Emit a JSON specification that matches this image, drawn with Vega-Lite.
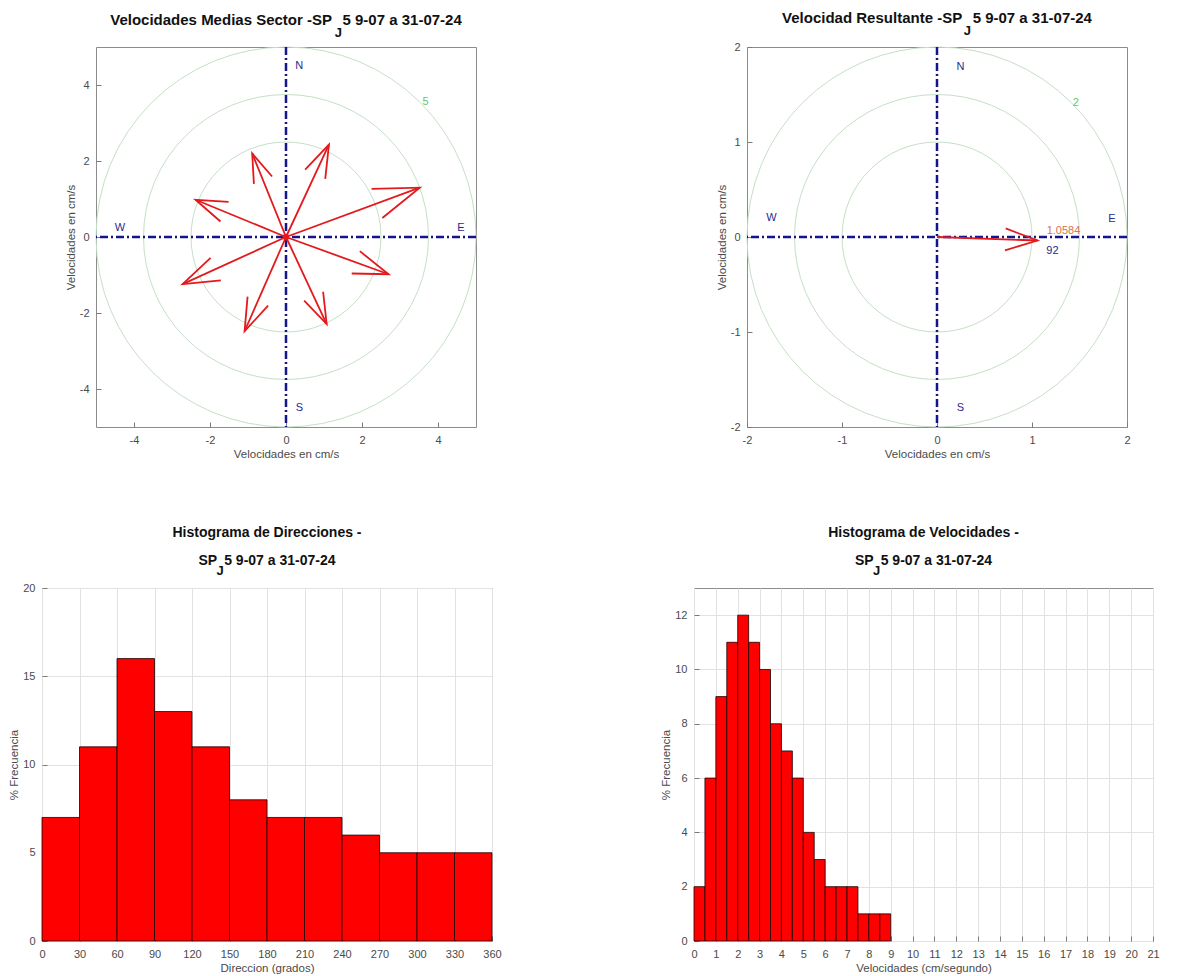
{
"$schema": "https://vega.github.io/schema/vega-lite/v6.json",
"background": "white",
"padding": {"left": 8, "top": 10, "right": 5, "bottom": 2},
"config": {
  "font": "Liberation Sans",
  "view": {"stroke": "#8c8c8c", "strokeWidth": 1},
  "axis": {"labelFont": "Liberation Sans", "labelFontSize": 11, "labelColor": "#4a4a4a", "titleFont": "Liberation Sans", "titleFontSize": 11.5, "titleFontWeight": "normal", "titleColor": "#4a4a4a", "domain": false, "ticks": true, "tickSize": -5, "tickColor": "#7a7a7a", "tickWidth": 1, "labelPadding": 12, "titlePadding": 3, "grid": false, "gridColor": "#e2e2e2", "gridWidth": 1, "labelOverlap": false, "labelFlush": false},
  "title": {"font": "Liberation Sans", "fontWeight": "bold", "color": "#111111", "frame": "group", "anchor": "middle"}
},
"datasets": {
  "rings1": [{"r": 2.5}, {"r": 3.75}, {"r": 5}],
  "rings2": [{"r": 1}, {"r": 1.5}, {"r": 2}],
  "origin": [{"o": 0}],
  "sect": [
    {"dir": 24.94, "speed": 2.680, "u": 1.13, "v": 2.43},
    {"dir": 69.73, "speed": 3.752, "u": 3.52, "v": 1.30},
    {"dir": 109.95, "speed": 2.872, "u": 2.70, "v": -0.98},
    {"dir": 154.95, "speed": 2.528, "u": 1.07, "v": -2.29},
    {"dir": 203.73, "speed": 2.709, "u": -1.09, "v": -2.48},
    {"dir": 245.49, "speed": 2.989, "u": -2.72, "v": -1.24},
    {"dir": 292.38, "speed": 2.574, "u": -2.38, "v": 0.98},
    {"dir": 337.97, "speed": 2.373, "u": -0.89, "v": 2.20}
  ],
  "res": [{"dir": 92, "speed": 1.0584, "u": 1.0577, "v": -0.0369}],
  "card1": [{"t": "N", "x": 0.35, "y": 4.49}, {"t": "S", "x": 0.35, "y": -4.5}, {"t": "W", "x": -4.37, "y": 0.23}, {"t": "E", "x": 4.6, "y": 0.23}],
  "card2": [{"t": "N", "x": 0.246, "y": 1.79}, {"t": "S", "x": 0.246, "y": -1.8}, {"t": "W", "x": -1.744, "y": 0.196}, {"t": "E", "x": 1.84, "y": 0.186}],
  "ringlab1": [{"t": "5", "x": 3.67, "y": 3.54}],
  "ringlab2": [{"t": "2", "x": 1.46, "y": 1.41}],
  "sub1": [{"t": "J", "x": 1.38, "y": 5.37}],
  "sub2": [{"t": "J", "x": 0.32, "y": 2.17}],
  "sub3": [{"t": "J", "x": 142.5, "y": 20.96}],
  "sub4": [{"t": "J", "x": 8.35, "y": 13.63}],
  "dirh": [
    {"b0": 0, "b1": 30, "pct": 7}, {"b0": 30, "b1": 60, "pct": 11}, {"b0": 60, "b1": 90, "pct": 16},
    {"b0": 90, "b1": 120, "pct": 13}, {"b0": 120, "b1": 150, "pct": 11}, {"b0": 150, "b1": 180, "pct": 8},
    {"b0": 180, "b1": 210, "pct": 7}, {"b0": 210, "b1": 240, "pct": 7}, {"b0": 240, "b1": 270, "pct": 6},
    {"b0": 270, "b1": 300, "pct": 5}, {"b0": 300, "b1": 330, "pct": 5}, {"b0": 330, "b1": 360, "pct": 5}
  ],
  "velh": [
    {"b0": 0, "b1": 0.5, "pct": 2}, {"b0": 0.5, "b1": 1, "pct": 6}, {"b0": 1, "b1": 1.5, "pct": 9},
    {"b0": 1.5, "b1": 2, "pct": 11}, {"b0": 2, "b1": 2.5, "pct": 12}, {"b0": 2.5, "b1": 3, "pct": 11},
    {"b0": 3, "b1": 3.5, "pct": 10}, {"b0": 3.5, "b1": 4, "pct": 8}, {"b0": 4, "b1": 4.5, "pct": 7},
    {"b0": 4.5, "b1": 5, "pct": 6}, {"b0": 5, "b1": 5.5, "pct": 4}, {"b0": 5.5, "b1": 6, "pct": 3},
    {"b0": 6, "b1": 6.5, "pct": 2}, {"b0": 6.5, "b1": 7, "pct": 2}, {"b0": 7, "b1": 7.5, "pct": 2},
    {"b0": 7.5, "b1": 8, "pct": 1}, {"b0": 8, "b1": 8.5, "pct": 1}, {"b0": 8.5, "b1": 9, "pct": 1}
  ]
},
"spacing": 65,
"vconcat": [
  {"spacing": 0, "hconcat": [
    {"width": 22, "height": 20, "data": {"name": "origin"}, "mark": {"type": "text", "text": ""}, "view": {"stroke": null}},
    {"spacing": 236, "hconcat": [
      {
        "width": 380, "height": 380,
        "title": {"text": "Velocidades Medias Sector -SP\u2002\u20095 9-07 a 31-07-24", "fontSize": 15, "offset": -1},
        "resolve": {"scale": {"size": "independent"}},
        "layer": [
          {"data": {"name": "rings1"},
           "mark": {"type": "point", "shape": "circle", "filled": false, "stroke": "#c6dfc6", "strokeWidth": 1, "opacity": 1},
           "encoding": {
             "x": {"datum": 0, "type": "quantitative", "scale": {"domain": [-5, 5], "nice": false, "zero": false}, "axis": {"title": "Velocidades en cm/s", "values": [-4, -2, 0, 2, 4], "labelExpr": "'' + datum.value"}},
             "y": {"datum": 0, "type": "quantitative", "scale": {"domain": [-5, 5], "nice": false, "zero": false}, "axis": {"title": "Velocidades en cm/s", "values": [-4, -2, 0, 2, 4], "labelExpr": "'' + datum.value"}},
             "size": {"field": "r", "type": "quantitative", "scale": {"type": "pow", "exponent": 2, "domain": [0, 5], "range": [0, 144400]}, "legend": null}
           }},
          {"data": {"name": "origin"},
           "mark": {"type": "rule", "color": "#15158a", "strokeWidth": 2.5, "strokeDash": [8, 3, 2, 3]},
           "encoding": {"x": {"field": "o", "type": "quantitative", "scale": {"domain": [-5, 5], "nice": false, "zero": false}, "axis": {"title": "Velocidades en cm/s", "values": [-4, -2, 0, 2, 4], "labelExpr": "'' + datum.value"}}}},
          {"data": {"name": "origin"},
           "mark": {"type": "rule", "color": "#15158a", "strokeWidth": 2.5, "strokeDash": [8, 3, 2, 3]},
           "encoding": {"y": {"field": "o", "type": "quantitative", "scale": {"domain": [-5, 5], "nice": false, "zero": false}, "axis": {"title": "Velocidades en cm/s", "values": [-4, -2, 0, 2, 4], "labelExpr": "'' + datum.value"}}}},
          {"data": {"name": "sect"},
           "mark": {"type": "rule", "color": "#e3191c", "strokeWidth": 1.8},
           "encoding": {
             "x": {"field": "u", "type": "quantitative", "scale": {"domain": [-5, 5], "nice": false, "zero": false}, "axis": {"title": "Velocidades en cm/s", "values": [-4, -2, 0, 2, 4], "labelExpr": "'' + datum.value"}},
             "y": {"field": "v", "type": "quantitative", "scale": {"domain": [-5, 5], "nice": false, "zero": false}, "axis": {"title": "Velocidades en cm/s", "values": [-4, -2, 0, 2, 4], "labelExpr": "'' + datum.value"}},
             "x2": {"datum": 0}, "y2": {"datum": 0}}},
          {"data": {"name": "sect"},
           "mark": {"type": "point", "shape": "M-0.34,1L0,0L0.34,1", "filled": false, "stroke": "#e3191c", "strokeWidth": 1.8, "opacity": 1},
           "encoding": {
             "x": {"field": "u", "type": "quantitative", "scale": {"domain": [-5, 5], "nice": false, "zero": false}, "axis": {"title": "Velocidades en cm/s", "values": [-4, -2, 0, 2, 4], "labelExpr": "'' + datum.value"}},
             "y": {"field": "v", "type": "quantitative", "scale": {"domain": [-5, 5], "nice": false, "zero": false}, "axis": {"title": "Velocidades en cm/s", "values": [-4, -2, 0, 2, 4], "labelExpr": "'' + datum.value"}},
             "angle": {"field": "dir", "type": "quantitative", "scale": null},
             "size": {"field": "speed", "type": "quantitative", "scale": {"type": "pow", "exponent": 2, "domain": [0, 5], "range": [0, 14787]}, "legend": null}}},
          {"data": {"name": "origin"},
           "mark": {"type": "point", "shape": "circle", "filled": true, "color": "#e3191c", "size": 40, "opacity": 1},
           "encoding": {
             "x": {"field": "o", "type": "quantitative", "scale": {"domain": [-5, 5], "nice": false, "zero": false}, "axis": {"title": "Velocidades en cm/s", "values": [-4, -2, 0, 2, 4], "labelExpr": "'' + datum.value"}},
             "y": {"field": "o", "type": "quantitative", "scale": {"domain": [-5, 5], "nice": false, "zero": false}, "axis": {"title": "Velocidades en cm/s", "values": [-4, -2, 0, 2, 4], "labelExpr": "'' + datum.value"}}}},
          {"data": {"name": "card1"},
           "mark": {"type": "text", "color": "#2a2a8c", "fontSize": 11},
           "encoding": {
             "x": {"field": "x", "type": "quantitative", "scale": {"domain": [-5, 5], "nice": false, "zero": false}, "axis": {"title": "Velocidades en cm/s", "values": [-4, -2, 0, 2, 4], "labelExpr": "'' + datum.value"}},
             "y": {"field": "y", "type": "quantitative", "scale": {"domain": [-5, 5], "nice": false, "zero": false}, "axis": {"title": "Velocidades en cm/s", "values": [-4, -2, 0, 2, 4], "labelExpr": "'' + datum.value"}},
             "text": {"field": "t"}}},
          {"data": {"name": "ringlab1"},
           "mark": {"type": "text", "color": "#5fc85f", "fontSize": 11},
           "encoding": {
             "x": {"field": "x", "type": "quantitative", "scale": {"domain": [-5, 5], "nice": false, "zero": false}, "axis": {"title": "Velocidades en cm/s", "values": [-4, -2, 0, 2, 4], "labelExpr": "'' + datum.value"}},
             "y": {"field": "y", "type": "quantitative", "scale": {"domain": [-5, 5], "nice": false, "zero": false}, "axis": {"title": "Velocidades en cm/s", "values": [-4, -2, 0, 2, 4], "labelExpr": "'' + datum.value"}},
             "text": {"field": "t"}}},
          {"data": {"name": "sub1"},
           "mark": {"type": "text", "color": "#111111", "fontSize": 13, "fontWeight": "bold"},
           "encoding": {
             "x": {"field": "x", "type": "quantitative", "scale": {"domain": [-5, 5], "nice": false, "zero": false}, "axis": {"title": "Velocidades en cm/s", "values": [-4, -2, 0, 2, 4], "labelExpr": "'' + datum.value"}},
             "y": {"field": "y", "type": "quantitative", "scale": {"domain": [-5, 5], "nice": false, "zero": false}, "axis": {"title": "Velocidades en cm/s", "values": [-4, -2, 0, 2, 4], "labelExpr": "'' + datum.value"}},
             "text": {"field": "t"}}}
        ]
      },
      {
        "width": 380, "height": 380,
        "title": {"text": "Velocidad Resultante -SP\u2002\u20095 9-07 a 31-07-24", "fontSize": 15, "offset": -1},
        "resolve": {"scale": {"size": "independent"}},
        "layer": [
          {"data": {"name": "rings2"},
           "mark": {"type": "point", "shape": "circle", "filled": false, "stroke": "#c6dfc6", "strokeWidth": 1, "opacity": 1},
           "encoding": {
             "x": {"datum": 0, "type": "quantitative", "scale": {"domain": [-2, 2], "nice": false, "zero": false}, "axis": {"title": "Velocidades en cm/s", "values": [-2, -1, 0, 1, 2], "labelExpr": "'' + datum.value"}},
             "y": {"datum": 0, "type": "quantitative", "scale": {"domain": [-2, 2], "nice": false, "zero": false}, "axis": {"title": "Velocidades en cm/s", "values": [-2, -1, 0, 1, 2], "labelExpr": "'' + datum.value"}},
             "size": {"field": "r", "type": "quantitative", "scale": {"type": "pow", "exponent": 2, "domain": [0, 2], "range": [0, 144400]}, "legend": null}
           }},
          {"data": {"name": "origin"},
           "mark": {"type": "rule", "color": "#15158a", "strokeWidth": 2.5, "strokeDash": [8, 3, 2, 3]},
           "encoding": {"x": {"field": "o", "type": "quantitative", "scale": {"domain": [-2, 2], "nice": false, "zero": false}, "axis": {"title": "Velocidades en cm/s", "values": [-2, -1, 0, 1, 2], "labelExpr": "'' + datum.value"}}}},
          {"data": {"name": "origin"},
           "mark": {"type": "rule", "color": "#15158a", "strokeWidth": 2.5, "strokeDash": [8, 3, 2, 3]},
           "encoding": {"y": {"field": "o", "type": "quantitative", "scale": {"domain": [-2, 2], "nice": false, "zero": false}, "axis": {"title": "Velocidades en cm/s", "values": [-2, -1, 0, 1, 2], "labelExpr": "'' + datum.value"}}}},
          {"data": {"name": "res"},
           "mark": {"type": "rule", "color": "#e3191c", "strokeWidth": 1.8},
           "encoding": {
             "x": {"field": "u", "type": "quantitative", "scale": {"domain": [-2, 2], "nice": false, "zero": false}, "axis": {"title": "Velocidades en cm/s", "values": [-2, -1, 0, 1, 2], "labelExpr": "'' + datum.value"}},
             "y": {"field": "v", "type": "quantitative", "scale": {"domain": [-2, 2], "nice": false, "zero": false}, "axis": {"title": "Velocidades en cm/s", "values": [-2, -1, 0, 1, 2], "labelExpr": "'' + datum.value"}},
             "x2": {"datum": 0}, "y2": {"datum": 0}}},
          {"data": {"name": "res"},
           "mark": {"type": "point", "shape": "M-0.34,1L0,0L0.34,1", "filled": false, "stroke": "#e3191c", "strokeWidth": 1.8, "opacity": 1},
           "encoding": {
             "x": {"field": "u", "type": "quantitative", "scale": {"domain": [-2, 2], "nice": false, "zero": false}, "axis": {"title": "Velocidades en cm/s", "values": [-2, -1, 0, 1, 2], "labelExpr": "'' + datum.value"}},
             "y": {"field": "v", "type": "quantitative", "scale": {"domain": [-2, 2], "nice": false, "zero": false}, "axis": {"title": "Velocidades en cm/s", "values": [-2, -1, 0, 1, 2], "labelExpr": "'' + datum.value"}},
             "angle": {"field": "dir", "type": "quantitative", "scale": null},
             "size": {"field": "speed", "type": "quantitative", "scale": {"type": "pow", "exponent": 2, "domain": [0, 2], "range": [0, 14787]}, "legend": null}}},
          {"data": {"name": "res"},
           "mark": {"type": "text", "color": "#d9734f", "fontSize": 11, "dx": 26, "dy": -10},
           "encoding": {
             "x": {"field": "u", "type": "quantitative", "scale": {"domain": [-2, 2], "nice": false, "zero": false}, "axis": {"title": "Velocidades en cm/s", "values": [-2, -1, 0, 1, 2], "labelExpr": "'' + datum.value"}},
             "y": {"field": "v", "type": "quantitative", "scale": {"domain": [-2, 2], "nice": false, "zero": false}, "axis": {"title": "Velocidades en cm/s", "values": [-2, -1, 0, 1, 2], "labelExpr": "'' + datum.value"}},
             "text": {"field": "speed", "type": "quantitative", "format": ".4f"}}},
          {"data": {"name": "res"},
           "mark": {"type": "text", "color": "#2a2a7a", "fontSize": 11, "dx": 15, "dy": 10},
           "encoding": {
             "x": {"field": "u", "type": "quantitative", "scale": {"domain": [-2, 2], "nice": false, "zero": false}, "axis": {"title": "Velocidades en cm/s", "values": [-2, -1, 0, 1, 2], "labelExpr": "'' + datum.value"}},
             "y": {"field": "v", "type": "quantitative", "scale": {"domain": [-2, 2], "nice": false, "zero": false}, "axis": {"title": "Velocidades en cm/s", "values": [-2, -1, 0, 1, 2], "labelExpr": "'' + datum.value"}},
             "text": {"field": "dir", "type": "quantitative", "format": "d"}}},
          {"data": {"name": "card2"},
           "mark": {"type": "text", "color": "#2a2a8c", "fontSize": 11},
           "encoding": {
             "x": {"field": "x", "type": "quantitative", "scale": {"domain": [-2, 2], "nice": false, "zero": false}, "axis": {"title": "Velocidades en cm/s", "values": [-2, -1, 0, 1, 2], "labelExpr": "'' + datum.value"}},
             "y": {"field": "y", "type": "quantitative", "scale": {"domain": [-2, 2], "nice": false, "zero": false}, "axis": {"title": "Velocidades en cm/s", "values": [-2, -1, 0, 1, 2], "labelExpr": "'' + datum.value"}},
             "text": {"field": "t"}}},
          {"data": {"name": "ringlab2"},
           "mark": {"type": "text", "color": "#5fc85f", "fontSize": 11},
           "encoding": {
             "x": {"field": "x", "type": "quantitative", "scale": {"domain": [-2, 2], "nice": false, "zero": false}, "axis": {"title": "Velocidades en cm/s", "values": [-2, -1, 0, 1, 2], "labelExpr": "'' + datum.value"}},
             "y": {"field": "y", "type": "quantitative", "scale": {"domain": [-2, 2], "nice": false, "zero": false}, "axis": {"title": "Velocidades en cm/s", "values": [-2, -1, 0, 1, 2], "labelExpr": "'' + datum.value"}},
             "text": {"field": "t"}}},
          {"data": {"name": "sub2"},
           "mark": {"type": "text", "color": "#111111", "fontSize": 13, "fontWeight": "bold"},
           "encoding": {
             "x": {"field": "x", "type": "quantitative", "scale": {"domain": [-2, 2], "nice": false, "zero": false}, "axis": {"title": "Velocidades en cm/s", "values": [-2, -1, 0, 1, 2], "labelExpr": "'' + datum.value"}},
             "y": {"field": "y", "type": "quantitative", "scale": {"domain": [-2, 2], "nice": false, "zero": false}, "axis": {"title": "Velocidades en cm/s", "values": [-2, -1, 0, 1, 2], "labelExpr": "'' + datum.value"}},
             "text": {"field": "t"}}}
        ]
      }
    ]}
  ]},
  {"spacing": 158, "hconcat": [
    {
      "width": 450, "height": 353,
      "title": {"text": ["Histograma de Direcciones -", "SP\u20025 9-07 a 31-07-24"], "fontSize": 14, "lineHeight": 28, "offset": -3},
      "layer": [
        {"data": {"name": "dirh"},
         "mark": {"type": "rect", "color": "#ff0000", "stroke": "#1a0000", "strokeWidth": 0.8},
         "encoding": {
           "x": {"field": "b0", "type": "quantitative", "scale": {"domain": [0, 360], "nice": false, "zero": false}, "axis": {"title": "Direccion (grados)", "values": [0, 30, 60, 90, 120, 150, 180, 210, 240, 270, 300, 330, 360], "grid": true, "labelExpr": "'' + datum.value"}},
           "x2": {"field": "b1"},
           "y": {"field": "pct", "type": "quantitative", "scale": {"domain": [0, 20], "nice": false}, "axis": {"title": "% Frecuencia", "values": [0, 5, 10, 15, 20], "grid": true, "labelExpr": "'' + datum.value"}},
           "y2": {"datum": 0}}},
        {"data": {"name": "sub3"},
         "mark": {"type": "text", "color": "#111111", "fontSize": 13, "fontWeight": "bold"},
         "encoding": {
           "x": {"field": "x", "type": "quantitative", "scale": {"domain": [0, 360], "nice": false, "zero": false}, "axis": {"title": "Direccion (grados)", "values": [0, 30, 60, 90, 120, 150, 180, 210, 240, 270, 300, 330, 360], "grid": true, "labelExpr": "'' + datum.value"}},
           "y": {"field": "y", "type": "quantitative", "scale": {"domain": [0, 20], "nice": false}, "axis": {"title": "% Frecuencia", "values": [0, 5, 10, 15, 20], "grid": true, "labelExpr": "'' + datum.value"}},
           "text": {"field": "t"}}}
      ]
    },
    {
      "width": 459, "height": 353,
      "title": {"text": ["Histograma de Velocidades -", "SP\u20025 9-07 a 31-07-24"], "fontSize": 14, "lineHeight": 28, "offset": -3},
      "layer": [
        {"data": {"name": "velh"},
         "mark": {"type": "rect", "color": "#ff0000", "stroke": "#1a0000", "strokeWidth": 0.8},
         "encoding": {
           "x": {"field": "b0", "type": "quantitative", "scale": {"domain": [0, 21], "nice": false, "zero": false}, "axis": {"title": "Velocidades (cm/segundo)", "values": [0, 1, 2, 3, 4, 5, 6, 7, 8, 9, 10, 11, 12, 13, 14, 15, 16, 17, 18, 19, 20, 21], "grid": true, "labelExpr": "'' + datum.value"}},
           "x2": {"field": "b1"},
           "y": {"field": "pct", "type": "quantitative", "scale": {"domain": [0, 13], "nice": false}, "axis": {"title": "% Frecuencia", "values": [0, 2, 4, 6, 8, 10, 12], "grid": true, "labelExpr": "'' + datum.value"}},
           "y2": {"datum": 0}}},
        {"data": {"name": "sub4"},
         "mark": {"type": "text", "color": "#111111", "fontSize": 13, "fontWeight": "bold"},
         "encoding": {
           "x": {"field": "x", "type": "quantitative", "scale": {"domain": [0, 21], "nice": false, "zero": false}, "axis": {"title": "Velocidades (cm/segundo)", "values": [0, 1, 2, 3, 4, 5, 6, 7, 8, 9, 10, 11, 12, 13, 14, 15, 16, 17, 18, 19, 20, 21], "grid": true, "labelExpr": "'' + datum.value"}},
           "y": {"field": "y", "type": "quantitative", "scale": {"domain": [0, 13], "nice": false}, "axis": {"title": "% Frecuencia", "values": [0, 2, 4, 6, 8, 10, 12], "grid": true, "labelExpr": "'' + datum.value"}},
           "text": {"field": "t"}}}
      ]
    }
  ]}
]
}
